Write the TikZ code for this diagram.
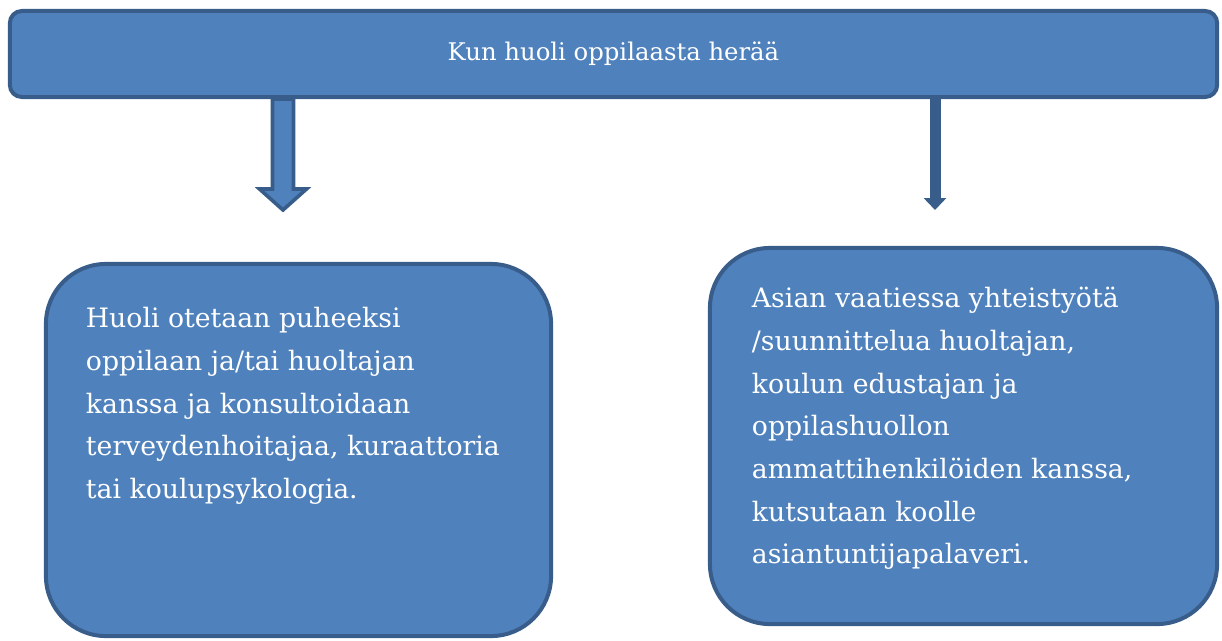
\documentclass[tikz,border=0pt]{standalone}
\usepackage{fontspec}
\setmainfont{DejaVu Serif}
\usepackage{xcolor}
\usetikzlibrary{calc}
\usetikzlibrary{arrows.meta}
\definecolor{boxfill}{HTML}{4F81BD}
\definecolor{boxline}{HTML}{385D8A}
\tikzset{
  topbox/.style={draw=boxline, fill=boxfill, line width=0.1cm, rounded corners=0.3cm, text=white, inner sep=0pt},
  casebox/.style={draw=boxline, fill=boxfill, line width=0.1cm, rounded corners=1.5cm, text=white, inner sep=0pt},
  blockarrow/.style={draw=boxline, fill=boxfill, line width=0.09cm, line join=miter},
  linearrow/.style={draw=boxline, line width=0.275cm, -{Triangle[width=0.55cm,length=0.3cm]}}
}

\begin{document}
\begin{tikzpicture}[x=0.025cm, y=-0.025cm]
            \useasboundingbox (0,0) rectangle (1222,640);
            % Concern and the two ways forward
            \node[topbox, minimum width=30.175cm, minimum height=2.15cm] (concern) at (613.5,54) {\fontsize{17.3pt}{20pt}\selectfont Kun huoli oppilaasta herää};
            \node[casebox] (talk) at (298.5,450) {\parbox[t][9.3cm][t]{12.625cm}{\fontsize{19pt}{30.3pt}\selectfont\raggedright\leftskip=1.0cm
              \rule{0pt}{1.6cm}Huoli otetaan puheeksi\\
              oppilaan ja/tai huoltajan\\
              kanssa ja konsultoidaan\\
              terveydenhoitajaa, kuraattoria\\
              tai koulupsykologia.}};
            \node[casebox] (meeting) at (963.5,436) {\parbox[t][9.4cm][t]{12.675cm}{\fontsize{19pt}{30.3pt}\selectfont\raggedright\leftskip=1.05cm
              \rule{0pt}{1.5cm}Asian vaatiessa yhteistyötä\\
              /suunnittelua huoltajan,\\
              koulun edustajan ja\\
              oppilashuollon\\
              ammattihenkilöiden kanssa,\\
              kutsutaan koolle\\
              asiantuntijapalaveri.}};
            
            \coordinate (talkarrow) at (283,210);
            \coordinate (meetarrow) at (935,210);
            \draw[blockarrow] ($(concern.south -| talkarrow)+(-10.5,0)$) -- ($(talkarrow)+(-10.5,-21)$) -- ($(talkarrow)+(-23.5,-21)$)
              -- (talkarrow) -- ($(talkarrow)+(23.5,-21)$) -- ($(talkarrow)+(10.5,-21)$) -- ($(concern.south -| talkarrow)+(10.5,0)$) -- cycle;
            \draw[linearrow] (concern.south -| meetarrow) -- (meetarrow);
        \end{tikzpicture}
\end{document}
